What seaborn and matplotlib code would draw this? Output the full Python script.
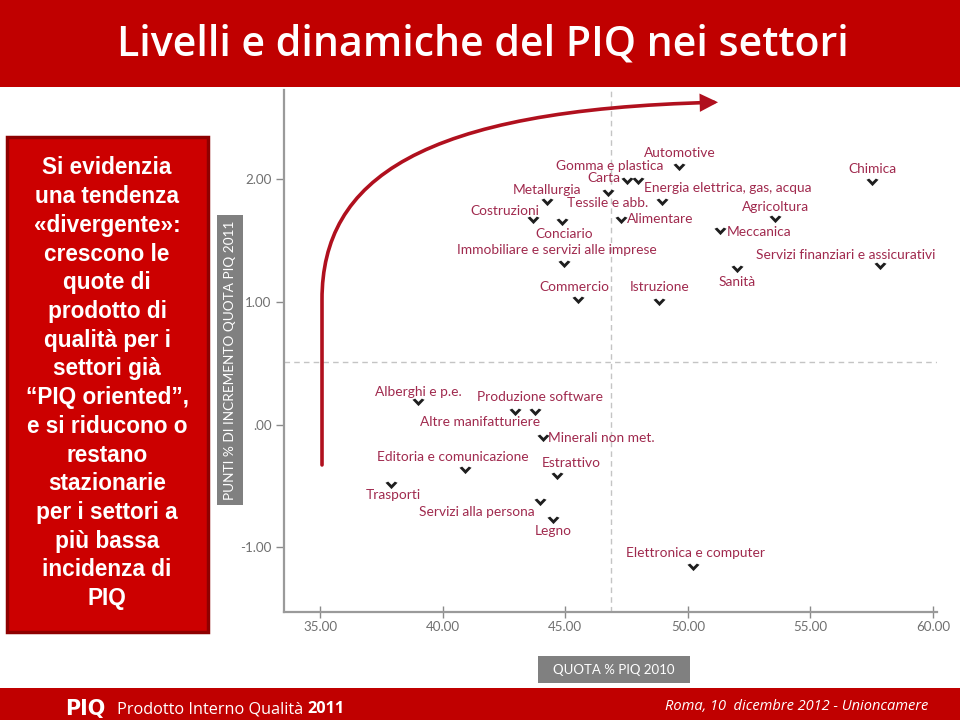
import numpy as np
import pandas as pd
import matplotlib
matplotlib.use("Agg")
import matplotlib.pyplot as plt
import seaborn as sns
from matplotlib.path import Path
from matplotlib.patches import Rectangle, FancyArrowPatch
from matplotlib.ticker import FuncFormatter, FixedLocator

# ---------------- data ----------------
sectors = [
    "Automotive", "Gomma e plastica", "Carta", "Tessile e abb.", "Metallurgia",
    "Energia elettrica, gas, acqua", "Costruzioni", "Conciario", "Alimentare",
    "Chimica", "Agricoltura", "Meccanica", "Immobiliare e servizi alle imprese",
    "Servizi finanziari e assicurativi", "Sanità", "Commercio", "Istruzione",
    "Alberghi e p.e.", "Produzione software", "Altre manifatturiere",
    "Minerali non met.", "Editoria e comunicazione", "Estrattivo", "Trasporti",
    "Servizi alla persona", "Legno", "Elettronica e computer",
]
quota_piq_2010 = [
    49.64, 47.97, 47.52, 46.75, 44.26,
    48.95, 43.69, 44.87, 47.28,
    57.51, 53.56, 51.31, 44.95,
    57.84, 52.01, 45.52, 48.83,
    39.00, 43.77, 42.95,
    44.09, 40.91, 44.67, 37.90,
    43.97, 44.50, 50.21,
]
incremento_quota_2011 = [
    2.10, 1.99, 1.99, 1.89, 1.82,
    1.82, 1.67, 1.65, 1.67,
    1.98, 1.68, 1.58, 1.31,
    1.29, 1.27, 1.02, 1.00,
    0.18, 0.10, 0.10,
    -0.11, -0.37, -0.42, -0.49,
    -0.63, -0.78, -1.16,
]
x_ticks = [35, 40, 45, 50, 55, 60]
y_ticks = [-1, 0, 1, 2]
media_quota_2010 = 46.85
media_incremento_2011 = 0.51

title = "Livelli e dinamiche del PIQ nei settori"
box_lines = [
    "Si evidenzia", "una tendenza", "«divergente»:", "crescono le",
    "quote di", "prodotto di", "qualità per i", "settori già",
    "“PIQ oriented”,", "e si riducono o", "restano", "stazionarie",
    "per i settori a", "più bassa", "incidenza di", "PIQ",
]
y_label = "PUNTI % DI INCREMENTO QUOTA PIQ 2011"
x_label = "QUOTA % PIQ 2010"
footer_left = "Prodotto Interno Qualità "
footer_year = "2011"
footer_right = "Roma, 10  dicembre 2012 - Unioncamere"

# label placement (pixel offsets from marker, alignment) - layout only
label_layout = {
    "Automotive": (1, 14, "center"),
    "Gomma e plastica": (-28, 15, "center"),
    "Carta": (-7, 3, "right"),
    "Tessile e abb.": (-1, -10, "center"),
    "Metallurgia": (0, 12, "center"),
    "Energia elettrica, gas, acqua": (-18, 14, "left"),
    "Costruzioni": (-28, 9, "center"),
    "Conciario": (2, -12, "center"),
    "Alimentare": (6, 1, "left"),
    "Chimica": (0, 13, "center"),
    "Agricoltura": (0, 12, "center"),
    "Meccanica": (7, -1, "left"),
    "Immobiliare e servizi alle imprese": (-7, 14, "center"),
    "Servizi finanziari e assicurativi": (-34, 11, "center"),
    "Sanità": (0, -13, "center"),
    "Commercio": (-4, 13, "center"),
    "Istruzione": (0, 15, "center"),
    "Alberghi e p.e.": (0, 10, "center"),
    "Produzione software": (5, 15, "center"),
    "Altre manifatturiere": (-35, -10, "center"),
    "Minerali non met.": (5, 0, "left"),
    "Editoria e comunicazione": (-12, 13, "center"),
    "Estrattivo": (14, 13, "center"),
    "Trasporti": (2, -10, "center"),
    "Servizi alla persona": (-5, -10, "right"),
    "Legno": (0, -11, "center"),
    "Elettronica e computer": (2, 14, "center"),
}

df = pd.DataFrame({"settore": sectors, "quota": quota_piq_2010,
                   "incremento": incremento_quota_2011})

# ---------------- style ----------------
sns.set_theme(style="white")
plt.rcParams["font.family"] = ["Lato", "DejaVu Sans"]

RED = "#c00000"
LABEL_COL = "#a02a4e"
W, H = 960, 720

fig = plt.figure(figsize=(9.6, 7.2), dpi=100)
fig.patch.set_facecolor("white")

def fx(px):
    return px / W

def fy(py):
    return 1 - py / H

# title bar
fig.add_artist(Rectangle((0, fy(87)), 1, 87 / H, transform=fig.transFigure,
                         facecolor=RED, edgecolor="none", zorder=0))
t_title = fig.text(fx(483), fy(44), title, ha="center", va="center",
                   color="white", fontsize=28, fontweight="semibold",
                   family=["Open Sans", "DejaVu Sans"])

# footer bar
fig.add_artist(Rectangle((0, 0), 1, 32 / H, transform=fig.transFigure,
                         facecolor=RED, edgecolor="none", zorder=0))
t_logo = fig.text(fx(65), fy(709), "PIQ", ha="left", va="center",
                  color="white", fontsize=13, fontweight="heavy",
                  family=["DejaVu Sans"])
t_fl = fig.text(fx(117), fy(709), footer_left, ha="left", va="center",
                color="white", fontsize=11.7, family=["Open Sans", "DejaVu Sans"])
t_fr = fig.text(fx(928), fy(707), footer_right, ha="right", va="center",
                color="white", fontsize=10.5, style="italic",
                family=["Open Sans", "DejaVu Sans"])

# left red box
fig.add_artist(Rectangle((fx(9), fy(634)), fx(201), 495 / H,
                         transform=fig.transFigure, facecolor="#5a0000",
                         edgecolor="none", alpha=0.35, zorder=1))
fig.add_artist(Rectangle((fx(7), fy(632)), fx(201), 495 / H,
                         transform=fig.transFigure, facecolor="#cc0000",
                         edgecolor="#8e0000", linewidth=2.5, zorder=2))
for i, line in enumerate(box_lines):
    fig.text(fx(107), fy(168 + i * 28.7), line, ha="center", va="center",
             color="white", fontsize=16.3, fontweight="bold",
             family=["Liberation Sans", "DejaVu Sans"], zorder=3)

# ---------------- chart ----------------
ax = fig.add_axes([fx(284), fy(612), (937 - 284) / W, (612 - 90) / H])
ax.set_facecolor("white")

ax.axvline(media_quota_2010, color="#c4c4c4", lw=1, ls=(0, (4, 3)), zorder=1)
ax.axhline(media_incremento_2011, color="#c4c4c4", lw=1, ls=(0, (4, 3)), zorder=1)

chevron = Path([(-1.0, 0.45), (-0.55, 0.65), (0.0, 0.1), (0.55, 0.65),
                (1.0, 0.45), (0.0, -0.6), (-1.0, 0.45)],
               [Path.MOVETO] + [Path.LINETO] * 5 + [Path.CLOSEPOLY])

sns.scatterplot(data=df, x="quota", y="incremento", marker=chevron, s=75,
                color="#1e1e1e", linewidth=0, ax=ax, zorder=4, legend=False)

for name, xv, yv in zip(df["settore"], df["quota"], df["incremento"]):
    dx, dy, ha = label_layout[name]
    ax.annotate(name, (xv, yv), xytext=(dx, dy), textcoords="offset pixels",
                ha=ha, va="center", color=LABEL_COL, fontsize=9.9, zorder=5)

ax.set_xlim(33.53, 60.16)
ax.set_ylim(-1.53, 2.73)
ax.xaxis.set_major_locator(FixedLocator(x_ticks))
ax.yaxis.set_major_locator(FixedLocator(y_ticks))
ax.xaxis.set_major_formatter(FuncFormatter(lambda v, p: f"{v:.2f}"))
ax.yaxis.set_major_formatter(
    FuncFormatter(lambda v, p: ".00" if v == 0 else f"{v:.2f}"))
ax.tick_params(axis="x", direction="inout", length=9, width=1, color="#8a8a8a",
               labelcolor="#707070", labelsize=9.6, pad=2, bottom=True)
ax.tick_params(axis="y", direction="out", length=6, width=1, color="#8a8a8a",
               labelcolor="#707070", labelsize=9.6, pad=3, left=True)
for side in ["top", "right"]:
    ax.spines[side].set_visible(False)
for side in ["left", "bottom"]:
    ax.spines[side].set_color("#9a9a9a")
    ax.spines[side].set_linewidth(1.6)
ax.set_xlabel("")
ax.set_ylabel("")

# trend arrow (decorative annotation)
verts = [(35.08, -0.33), (35.08, 1.02),
         (35.08, 2.00), (39.08, 2.57), (51.23, 2.63)]
codes = [Path.MOVETO, Path.LINETO, Path.CURVE4, Path.CURVE4, Path.CURVE4]
arrow = FancyArrowPatch(path=Path(verts, codes),
                        arrowstyle="-|>,head_length=9,head_width=4.5",
                        color="#b0101e", lw=2.6, transform=ax.transData,
                        zorder=3, joinstyle="miter")
ax.add_patch(arrow)

# axis title boxes
fig.add_artist(Rectangle((fx(217), fy(505)), fx(26), 290 / H,
                         transform=fig.transFigure, facecolor="#808080",
                         edgecolor="none", zorder=2))
t_yl = fig.text(fx(230), fy(360), y_label, rotation=90, ha="center",
                va="center", color="white", fontsize=9, zorder=3)
fig.add_artist(Rectangle((fx(538), fy(683)), fx(152), 27 / H,
                         transform=fig.transFigure, facecolor="#808080",
                         edgecolor="none", zorder=2))
fig.text(fx(614), fy(669.5), x_label, ha="center", va="center",
         color="white", fontsize=9.5, zorder=3)

# fit text lengths to the layout
renderer = fig.canvas.get_renderer()

def fit_length(t, target_px, vertical=False):
    bb = t.get_window_extent(renderer)
    size = bb.height if vertical else bb.width
    t.set_fontsize(t.get_fontsize() * target_px / size)

fit_length(t_title, 733)
fit_length(t_logo, 40)
fit_length(t_yl, 278, vertical=True)
fit_length(t_fr, 263)
bb = t_fl.get_window_extent(renderer)
fig.text(fx(bb.x1), fy(709), footer_year, ha="left", va="center",
         color="white", fontsize=t_fl.get_fontsize(), fontweight="bold",
         family=["Open Sans", "DejaVu Sans"])

fig.savefig("out.png", dpi=100, facecolor="white")
